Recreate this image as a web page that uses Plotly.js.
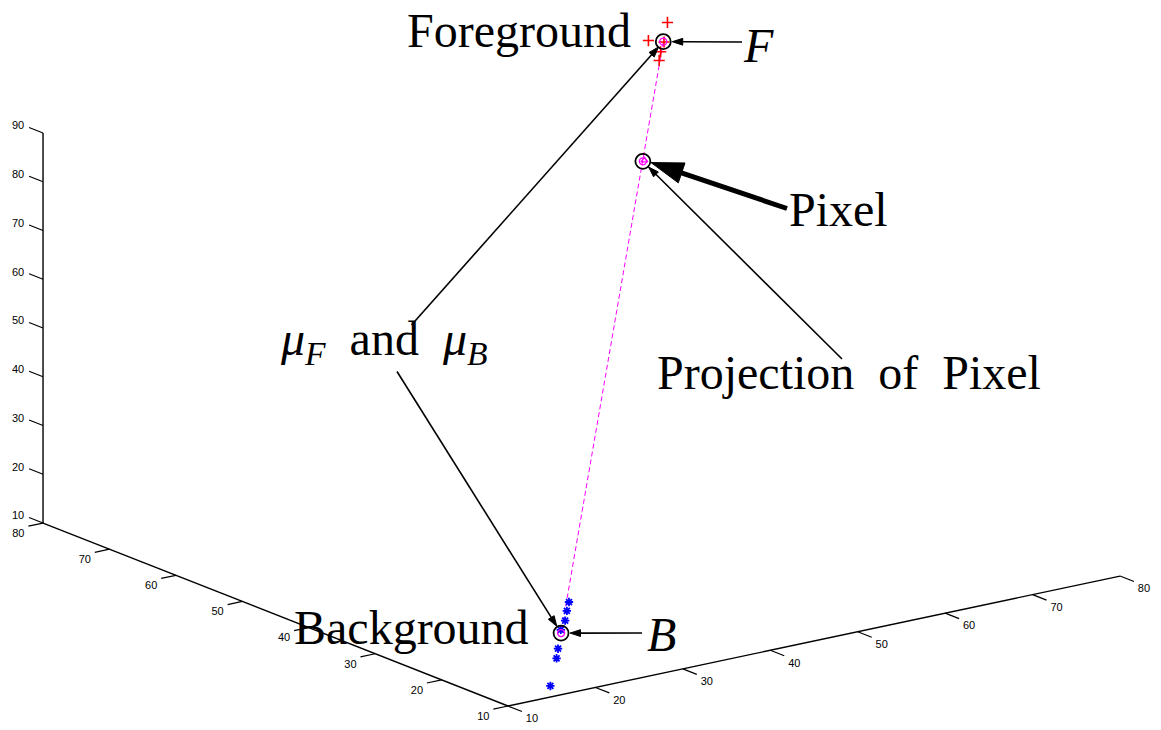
<!DOCTYPE html>
<html>
<head>
<meta charset="utf-8">
<script src="https://cdn.plot.ly/plotly-3.0.1.min.js"></script>
<style>
  html, body { margin: 0; padding: 0; background: #fff; }
  #chart { width: 1161px; height: 730px; }
</style>
</head>
<body>
<div id="chart"></div>
<script>
// Background colour samples (blue stars)
const bgX = [21, 20, 19.5, 19, 18, 17, 15];
const bgY = [15.3, 14.3, 13.9, 13.9, 13.0, 11.9, 10.2];
const bgZ = [24.3, 23.4, 21.8, 20.1, 17.1, 16.1, 12.1];

// Foreground colour samples (red crosses)
const fgX = [78, 74, 76, 75, 77];
const fgY = [75.5, 73.1, 73.9, 72.8, 74.7];
const fgZ = [89.2, 88.3, 84.8, 84.0, 86.0];

// Cluster means, the observed pixel and its projection on the mean-to-mean line
const muF = [76, 73.5, 87.1];
const muB = [18.5, 13.2, 20.0];
const pixel = [64.8, 61.6, 73.4];
const proj = [64.4, 61.3, 73.5];

// Axis ticks
const xTicks = [10, 20, 30, 40, 50, 60, 70, 80];
const yTicks = [10, 20, 30, 40, 50, 60, 70, 80];
const zTicks = [10, 20, 30, 40, 50, 60, 70, 80, 90];

// ---- orthographic 3-D view (azimuth / elevation, plot box in px) ----
const W = 1161, H = 730;
const view = { az: 36.3, el: 16.8 };
const boxLen = { x: 759.4, y: 785.4, z: 407.4 };
const corner = { sx: 508, sy: 706 };          // screen spot of the box corner (xmin, ymin, zmin)
const lim = { x: [10, 80], y: [10, 80], z: [10, 90] };

const rad = Math.PI / 180;
const ca = Math.cos(view.az * rad), sa = Math.sin(view.az * rad);
const ce = Math.cos(view.el * rad), se = Math.sin(view.el * rad);

function project(X, Y, Z) {
  const cx = (X - lim.x[0]) / (lim.x[1] - lim.x[0]) * boxLen.x;
  const cy = (Y - lim.y[0]) / (lim.y[1] - lim.y[0]) * boxLen.y;
  const cz = (Z - lim.z[0]) / (lim.z[1] - lim.z[0]) * boxLen.z;
  return [corner.sx + cx * ca - cy * sa,
          corner.sy - (cx * se * sa + cy * se * ca + cz * ce)];
}
function projectAll(xs, ys, zs) {
  const sx = [], sy = [];
  xs.forEach((x, i) => { const p = project(x, ys[i], zs[i]); sx.push(p[0]); sy.push(p[1]); });
  return { x: sx, y: sy };
}
const P = v => project(v[0], v[1], v[2]);

// ---- axes: lines, tick marks, tick labels ----
const tickLen = 15;
function unitDir(dx, dy, dz) {             // screen direction of a data-space direction
  const a = project(lim.x[0] + dx, lim.y[0] + dy, lim.z[0] + dz);
  const vx = a[0] - corner.sx, vy = a[1] - corner.sy, n = Math.hypot(vx, vy);
  return [vx / n, vy / n];
}
const dirNegY = unitDir(0, -1, 0);         // x-axis ticks point toward the viewer
const dirNegX = unitDir(-1, 0, 0);         // y-axis ticks
const dirPosY = unitDir(0, 1, 0);          // z-axis ticks

const axisDefs = [
  { ticks: xTicks, pt: t => project(t, lim.y[0], lim.z[0]), dir: dirNegY, off: [10, 8] },
  { ticks: yTicks, pt: t => project(lim.x[0], t, lim.z[0]), dir: dirNegX, off: [-10, 8] },
  { ticks: zTicks, pt: t => project(lim.x[0], lim.y[1], t), dir: dirPosY, off: [-11, -1] }
];

const axLineX = [], axLineY = [], tkX = [], tkY = [], lbX = [], lbY = [], lbT = [];
axisDefs.forEach(a => {
  const p0 = a.pt(a.ticks[0]), p1 = a.pt(a.ticks[a.ticks.length - 1]);
  axLineX.push(p0[0], p1[0], null); axLineY.push(p0[1], p1[1], null);
  a.ticks.forEach(t => {
    const p = a.pt(t);
    const e = [p[0] + a.dir[0] * tickLen, p[1] + a.dir[1] * tickLen];
    tkX.push(p[0], e[0], null); tkY.push(p[1], e[1], null);
    lbX.push(e[0] + a.off[0]); lbY.push(e[1] + a.off[1]); lbT.push(String(t));
  });
});

const bg = projectAll(bgX, bgY, bgZ);
const fg = projectAll(fgX, fgY, fgZ);
const pF = P(muF), pB = P(muB), pPix = P(pixel), pProj = P(proj);

// Pointer arrows: shaft from a tail spot next to a label to the marked point
function pointer(tail, head, width, headSize, standoff) {
  return {
    type: 'scatter', mode: 'lines+markers', hoverinfo: 'skip',
    x: [tail[0], head[0]], y: [tail[1], head[1]],
    line: { color: '#000', width: width },
    marker: { symbol: 'arrow', angleref: 'previous', size: [0, headSize],
              standoff: standoff, color: '#000', opacity: 1,
              line: { width: 1, color: '#000' } }
  };
}

const traces = [
  { type: 'scatter', mode: 'lines', x: axLineX, y: axLineY,
    line: { color: '#000', width: 1.4 }, hoverinfo: 'skip' },
  { type: 'scatter', mode: 'lines', x: tkX, y: tkY,
    line: { color: '#000', width: 1.2 }, hoverinfo: 'skip' },
  { type: 'scatter', mode: 'text', x: lbX, y: lbY, text: lbT,
    textposition: 'middle center',
    textfont: { family: 'Liberation Sans, Arial, sans-serif', size: 11, color: '#000' } },
  { type: 'scatter', mode: 'lines', x: [pF[0], pB[0]], y: [pF[1], pB[1]],
    line: { color: '#ff00ff', width: 1, dash: '5px,3px' } },
  { type: 'scatter', mode: 'markers', x: bg.x, y: bg.y,
    marker: { symbol: 'asterisk-open', size: 7, color: '#0000ff', line: { width: 1.8, color: '#0000ff' } } },
  { type: 'scatter', mode: 'markers', x: fg.x, y: fg.y,
    marker: { symbol: 'cross-thin-open', size: 8, color: '#ff0000', line: { width: 1.6, color: '#ff0000' } } },
  { type: 'scatter', mode: 'markers', x: [pF[0], pB[0], pProj[0]], y: [pF[1], pB[1], pProj[1]],
    marker: { symbol: 'circle-open', size: 7, color: '#ff00ff', line: { width: 1.4, color: '#ff00ff' } } },
  { type: 'scatter', mode: 'markers', x: [pPix[0]], y: [pPix[1]],
    marker: { symbol: 'triangle-up-open', size: 6, color: '#ff00ff', line: { width: 1.4, color: '#ff00ff' } } },
  { type: 'scatter', mode: 'markers', x: [pF[0], pB[0], pProj[0]], y: [pF[1], pB[1], pProj[1]],
    marker: { symbol: 'circle-open', size: 15, color: '#000', line: { width: 1.8, color: '#000' } } },
  pointer([742, 42], pF, 1.6, 11, 9),
  pointer([787, 208.5], pPix, 5, 34, 7),
  pointer([842, 359], pProj, 1.6, 11, 8),
  pointer([411.5, 325], pF, 1.6, 11, 7),
  pointer([397, 371.5], pB, 1.6, 11, 8),
  pointer([642, 633], pB, 1.6, 11, 9)
];

const serif = 'Liberation Serif, Times New Roman, serif';
const big = 48;

function label(text, x, y) {
  return {
    xref: 'paper', yref: 'paper', x: x / W, y: 1 - y / H, text: text,
    showarrow: false, xanchor: 'center', yanchor: 'middle',
    font: { family: serif, size: big, color: '#000' }
  };
}

const layout = {
  width: W, height: H,
  margin: { l: 0, r: 0, t: 0, b: 0 },
  paper_bgcolor: '#fff', plot_bgcolor: '#fff',
  showlegend: false,
  xaxis: { range: [0, W], visible: false, fixedrange: true },
  yaxis: { range: [H, 0], visible: false, fixedrange: true },
  annotations: [
    label('Foreground', 518.5, 31),
    label('<i>F</i>', 758.5, 46),
    label('Pixel', 838.5, 209),
    label('Projection\u2002of\u2002Pixel', 849, 373),
    label('<i>μ</i><sub><i>F</i></sub>\u2002and\u2002<i>μ</i><sub><i>B</i></sub>', 383.5, 342),
    label('Background', 411.5, 627),
    label('<i>B</i>', 661, 634)
  ]
};

Plotly.newPlot('chart', traces, layout, { displayModeBar: false, staticPlot: true });
</script>
</body>
</html>
